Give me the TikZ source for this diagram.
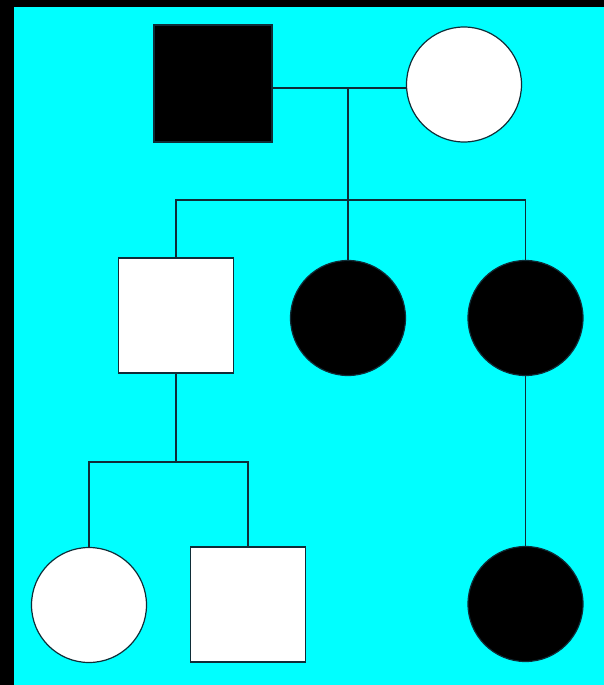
\documentclass[tikz,border=0pt]{standalone}
\definecolor{bgcyan}{RGB}{0,255,255}
\definecolor{linedark}{RGB}{15,45,55}
\begin{document}
\begin{tikzpicture}[x=1pt,y=-1pt,
  link/.style={draw=linedark,line width=1.3pt},
  person/.style={draw=linedark,line width=1.2pt,inner sep=0pt,minimum size=115pt},
  male/.style={person,rectangle},
  female/.style={person,circle},
  aff/.style={fill=black},
  unaff/.style={fill=white}]
\useasboundingbox (0,0) rectangle (604,685);
\fill[bgcyan] (0,0) rectangle (604,685);
\fill[black] (0,0) rectangle (14,685);
\fill[black] (0,0) rectangle (604,7);
% parents
\node[male,aff,minimum width=118pt,minimum height=117pt] (F) at (213,83.5) {};
\node[female,unaff] (M) at (464,84.5) {};
% children
\node[male,unaff] (S) at (176,315.5) {};
\node[female,aff] (D1) at (348,318) {};
\node[female,aff] (D2) at (525.5,318) {};
% grandchildren
\node[female,unaff] (GD) at (89,605) {};
\node[male,unaff] (GS) at (248,604.5) {};
\node[female,aff] (GC) at (525.5,604) {};
% connectors
\coordinate (m) at (348,88);
\coordinate (s) at (348,200);
\coordinate (s2) at (176,462);
\draw[link] (F.east|-m) -- (M.west|-m);
\draw[link] (m) -- (s);
\draw[link] (s) -- (D1.north);
\draw[link] (S.north) -- (S.north|-s) -- (D2.north|-s) -- (D2.north);
\draw[link] (S.south) -- (s2);
\draw[link] (GD.north) -- (GD.north|-s2) -- (GS.north|-s2) -- (GS.north);
\draw[link] (D2.south) -- (GC.north);
\end{tikzpicture}
\end{document}
